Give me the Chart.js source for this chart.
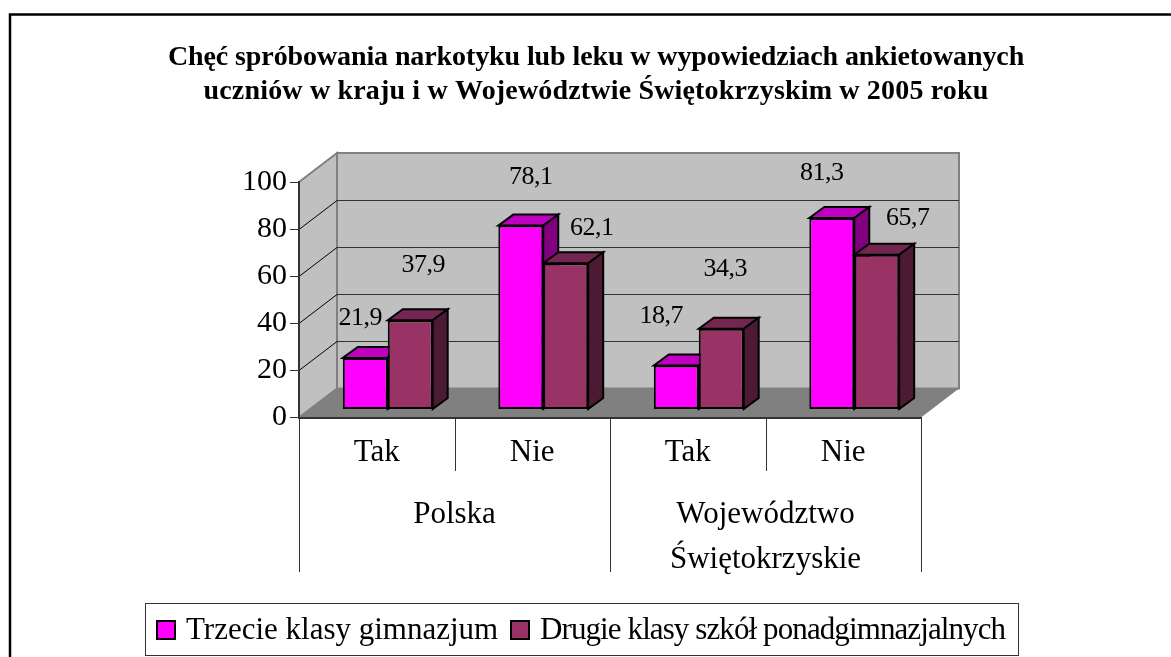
<!DOCTYPE html>
<html>
<head>
<meta charset="utf-8">
<title>Chęć spróbowania narkotyku lub leku</title>
<script src="https://cdn.jsdelivr.net/npm/chart.js@4"></script>
<style>
    body { margin: 0; background: #fff; }
    canvas { display: block; }
</style>
</head>
<body>
<canvas id="myChart" width="1171" height="657"></canvas>
<script>
const answers = ['Tak', 'Nie', 'Tak', 'Nie'];
const regions = [['Polska'], ['Województwo', 'Świętokrzyskie']];
const regionSpans = [[0, 2], [2, 4]];
const titleLines = [
    'Chęć spróbowania narkotyku lub leku w wypowiedziach ankietowanych',
    'uczniów w kraju i w Województwie Świętokrzyskim w 2005 roku'
];
const gimnazjum = [21.9, 78.1, 18.7, 81.3];
const ponadgimnazjalne = [37.9, 62.1, 34.3, 65.7];
const gimnazjumLabel = 'Trzecie klasy gimnazjum';
const ponadgimnazjalneLabel = 'Drugie klasy szkół ponadgimnazjalnych';
const yTicks = [0, 20, 40, 60, 80, 100];

// where each value label sits, relative to the top centre of its bar
const labelShift = [
    [[-5, -40], [10, -48], [-15, -49], [-10, -45]],
    [[13, -55], [26, -35], [4, -60], [31, -37]]
];

const serif = '"Liberation Serif", "Times New Roman", serif';
const wallDepth = { x: 38, y: -29 };
const barShift = { x: 11, y: -8 };
const barDepth = { x: 15, y: -11 };

function polygon(ctx, points, fill, stroke, lineWidth) {
    ctx.beginPath();
    points.forEach((p, i) => i ? ctx.lineTo(p[0], p[1]) : ctx.moveTo(p[0], p[1]));
    ctx.closePath();
    ctx.fillStyle = fill;
    ctx.fill();
    if (stroke) {
        ctx.strokeStyle = stroke;
        ctx.lineWidth = lineWidth;
        ctx.stroke();
    }
}

const chart3d = {
    id: 'chart3d',
    beforeDraw(chart) {
        const ctx = chart.ctx;
        const x = chart.scales.x;
        const y = chart.scales.y;
        const dx = wallDepth.x;
        const dy = wallDepth.y;

        ctx.save();
        // outer frame, only the top and left edges are in the picture
        ctx.strokeStyle = '#000';
        ctx.lineWidth = 2.5;
        ctx.beginPath();
        ctx.moveTo(10, 657);
        ctx.lineTo(10, 14.5);
        ctx.lineTo(1171, 14.5);
        ctx.stroke();

        // title
        ctx.fillStyle = '#000';
        ctx.font = 'bold 28px ' + serif;
        ctx.textAlign = 'center';
        ctx.textBaseline = 'alphabetic';
        ctx.letterSpacing = '-0.1px';
        ctx.fillText(titleLines[0], 596, 65);
        ctx.letterSpacing = '0.17px';
        ctx.fillText(titleLines[1], 596, 99);
        ctx.letterSpacing = '0px';

        // back wall, side wall and floor
        polygon(ctx, [[x.left + dx, y.top + dy], [x.right + dx, y.top + dy], [x.right + dx, y.bottom + dy], [x.left + dx, y.bottom + dy]], '#c0c0c0', '#808080', 2);
        polygon(ctx, [[x.left, y.top], [x.left + dx, y.top + dy], [x.left + dx, y.bottom + dy], [x.left, y.bottom]], '#c0c0c0', '#808080', 2);
        polygon(ctx, [[x.left, y.bottom], [x.left + dx, y.bottom + dy], [x.right + dx, y.bottom + dy], [x.right, y.bottom]], '#808080');

        // gridlines
        ctx.lineWidth = 1;
        yTicks.slice(1, -1).forEach((v) => {
            const py = Math.round(y.getPixelForValue(v)) + 0.5;
            ctx.strokeStyle = '#000';
            ctx.beginPath();
            ctx.moveTo(x.left, py);
            ctx.lineTo(x.left + dx, py + dy);
            ctx.stroke();
            ctx.strokeStyle = '#333';
            ctx.beginPath();
            ctx.moveTo(x.left + dx, py + dy);
            ctx.lineTo(x.right + dx, py + dy);
            ctx.stroke();
        });

        // category dividers
        ctx.strokeStyle = '#333';
        const step = x.width / answers.length;
        answers.forEach((a, i) => {
            const px = Math.round(x.left + i * step) + 0.5;
            ctx.beginPath();
            ctx.moveTo(px, y.bottom);
            ctx.lineTo(px, i % 2 ? 471 : 572);
            ctx.stroke();
        });
        ctx.beginPath();
        ctx.moveTo(x.right + 0.5, y.bottom);
        ctx.lineTo(x.right + 0.5, 572);
        ctx.stroke();

        // region labels
        ctx.font = '31px ' + serif;
        ctx.fillStyle = '#000';
        regions.forEach((lines, i) => {
            const px = x.left + (regionSpans[i][0] + regionSpans[i][1]) / 2 * step;
            lines.forEach((line, j) => ctx.fillText(line, px, 523 + j * 45));
        });

        // legend
        const items = chart.data.datasets;
        ctx.strokeStyle = '#333';
        ctx.strokeRect(145.5, 603.5, 873, 52);
        const legendX = [157, 511];
        const legendSpacing = ['0px', '-0.9px'];
        ctx.textAlign = 'left';
        items.forEach((d, i) => {
            ctx.fillStyle = d.backgroundColor;
            ctx.fillRect(legendX[i], 621, 18, 18);
            ctx.strokeStyle = '#000';
            ctx.lineWidth = 2;
            ctx.strokeRect(legendX[i], 621, 18, 18);
            ctx.fillStyle = '#000';
            ctx.letterSpacing = legendSpacing[i];
            ctx.fillText(d.label, legendX[i] + 29, 639);
        });
        ctx.restore();
    },
    beforeDatasetsDraw(chart) {
        const ctx = chart.ctx;
        ctx.save();
        ctx.translate(barShift.x, barShift.y);
        const dx = barDepth.x;
        const dy = barDepth.y;

        // tops and sides first, front faces are drawn by the library on top of them
        answers.forEach((a, i) => {
            chart.data.datasets.forEach((d, k) => {
                const bar = chart.getDatasetMeta(k).data[i];
                const l = bar.x - bar.width / 2;
                const r = bar.x + bar.width / 2;
                polygon(ctx, [[l, bar.y], [l + dx, bar.y + dy], [r + dx, bar.y + dy], [r, bar.y]], d.topColor, '#000', 2);
                polygon(ctx, [[r, bar.y], [r + dx, bar.y + dy], [r + dx, bar.base + dy], [r, bar.base]], d.sideColor, '#000', 2);
            });
        });
    },
    afterDatasetsDraw(chart) {
        const ctx = chart.ctx;
        ctx.restore();

        ctx.save();
        ctx.font = '26px ' + serif;
        ctx.letterSpacing = '-0.5px';
        ctx.fillStyle = '#000';
        ctx.textAlign = 'center';
        ctx.textBaseline = 'middle';
        chart.data.datasets.forEach((d, k) => {
            chart.getDatasetMeta(k).data.forEach((bar, i) => {
                const text = String(d.data[i]).replace('.', ',');
                const shift = labelShift[k][i];
                ctx.fillText(text, bar.x + barShift.x + shift[0], bar.y + barShift.y + shift[1]);
            });
        });
        ctx.restore();
    }
};

const ctx = document.getElementById('myChart');

new Chart(ctx, {
    type: 'bar',
    data: {
        labels: answers,
        datasets: [{
            label: gimnazjumLabel,
            data: gimnazjum,
            backgroundColor: '#ff00ff',
            topColor: '#c000c0',
            sideColor: '#800080',
            borderColor: '#000',
            borderWidth: 2,
            borderSkipped: false
        }, {
            label: ponadgimnazjalneLabel,
            data: ponadgimnazjalne,
            backgroundColor: '#993366',
            topColor: '#732650',
            sideColor: '#4d1a33',
            borderColor: '#000',
            borderWidth: 2,
            borderSkipped: false
        }]
    },
    options: {
        responsive: false,
        animation: false,
        categoryPercentage: 0.578,
        barPercentage: 1,
        layout: { padding: { top: 182, right: 250, left: 0, bottom: 0 } },
        plugins: {
            legend: { display: false },
            title: { display: false },
            tooltip: { enabled: false }
        },
        scales: {
            x: {
                afterFit(scale) { scale.height = 239.5; },
                grid: { display: false },
                border: { color: '#333', width: 2 },
                ticks: { color: '#000', font: { family: serif, size: 31 }, padding: 9, maxRotation: 0 }
            },
            y: {
                min: 0,
                max: 100,
                afterFit(scale) { scale.width = 299; },
                grid: { drawOnChartArea: false, drawTicks: true, tickLength: 9, color: '#333' },
                border: { color: '#333', width: 2 },
                ticks: { color: '#000', font: { family: serif, size: 30 }, padding: 3, stepSize: 20 }
            }
        }
    },
    plugins: [chart3d]
});
</script>
</body>
</html>
